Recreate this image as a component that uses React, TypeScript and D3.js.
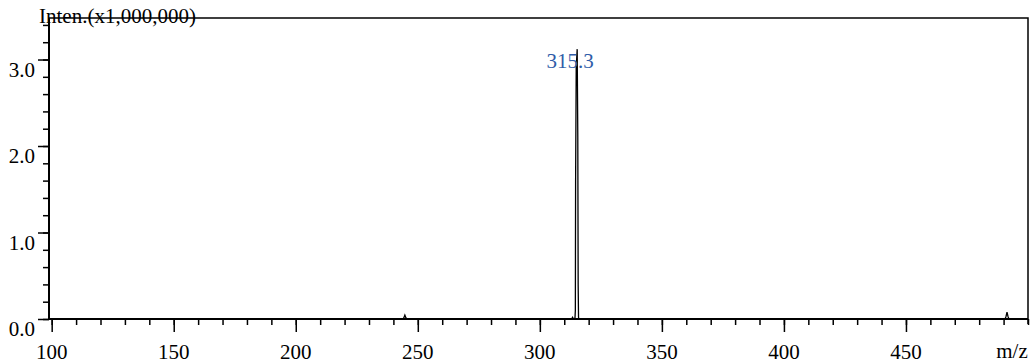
import React, { useRef, useEffect } from "react";
import * as d3 from "d3";

// spectrum profile (m/z, intensity in millions)
const mz = [98.9, 243.9, 244.3, 244.7, 245.1, 245.5, 313.0, 313.4, 313.8, 314.4, 314.55, 314.65, 314.9, 315.3, 315.55, 315.7, 315.85, 316.0, 490.6, 491.0, 491.4, 491.8, 492.2, 500];
const intensity = [0, 0, 0.015, 0.045, 0.015, 0, 0, 0.02, 0, 0.01, 0.1, 1.6, 2.9, 3.12, 2.1, 0.4, 0.02, 0, 0, 0.03, 0.08, 0.03, 0, 0];

const peakLabels = [{ mz: 315.3, value: 3.12, text: "315.3" }];

const xMajor = [100, 150, 200, 250, 300, 350, 400, 450];
const xMinor = d3.range(100, 501, 10);
const yMajor = [0, 1, 2, 3];
const yMinor = d3.range(0, 3.41, 0.2);
const yTickLabels = ["0.0", "1.0", "2.0", "3.0"];

const font = "'Liberation Serif', 'Times New Roman', serif";

function App() {
  const svgRef = useRef<SVGSVGElement>(null);

  useEffect(() => {
    document.body.style.margin = "0";
    const width = 1033,
      height = 363;
    const left = 49,
      right = 1028,
      top = 18,
      bottom = 319;

    const x = d3.scaleLinear().domain([98.9, 500]).range([left, right]);
    const y = d3.scaleLinear().domain([0, 3.48]).range([bottom, top]);

    const svg = d3.select(svgRef.current).attr("width", width).attr("height", height);
    svg.selectAll("*").remove();

    // frame top/right
    svg
      .append("path")
      .attr("d", `M${left},${top}H${right}V${bottom + 5}`)
      .attr("fill", "none")
      .attr("stroke", "#000")
      .attr("stroke-width", 1.5);

    // x minor / major ticks
    const xMinorAxis = d3.axisBottom(x).tickValues(xMinor).tickSize(6).tickFormat(() => "");
    const xMajorAxis = d3.axisBottom(x).tickValues(xMajor).tickSize(13).tickFormat(() => "");
    [xMinorAxis, xMajorAxis].forEach((ax) => {
      const g = svg.append("g").attr("transform", `translate(0,${bottom})`).call(ax);
      g.select(".domain").remove();
      g.selectAll("line").attr("stroke", "#000").attr("stroke-width", 1.5);
    });

    // y minor / major ticks
    const yMinorAxis = d3.axisLeft(y).tickValues(yMinor).tickSize(6).tickFormat(() => "");
    const yMajorAxis = d3.axisLeft(y).tickValues(yMajor).tickSize(11).tickFormat(() => "");
    [yMinorAxis, yMajorAxis].forEach((ax) => {
      const g = svg.append("g").attr("transform", `translate(${left},0)`).call(ax);
      g.select(".domain").remove();
      g.selectAll("line").attr("stroke", "#000").attr("stroke-width", 1.5);
    });

    // axis lines
    svg
      .append("path")
      .attr("d", `M${left},${top}V${bottom}H${right}`)
      .attr("fill", "none")
      .attr("stroke", "#000")
      .attr("stroke-width", 2);

    // x labels
    svg
      .selectAll(".xl")
      .data(xMajor)
      .join("text")
      .attr("x", (d) => x(d))
      .attr("y", 359)
      .attr("text-anchor", "middle")
      .attr("font-family", font)
      .attr("font-size", 21)
      .text((d) => String(d));

    svg
      .append("text")
      .attr("x", 1012)
      .attr("y", 358)
      .attr("text-anchor", "middle")
      .attr("font-family", font)
      .attr("font-size", 21)
      .text("m/z");

    // y labels
    svg
      .selectAll(".yl")
      .data(yMajor)
      .join("text")
      .attr("x", 35)
      .attr("y", (d) => y(d) + 17)
      .attr("text-anchor", "end")
      .attr("font-family", font)
      .attr("font-size", 21)
      .text((d, i) => yTickLabels[i]);

    svg
      .append("text")
      .attr("x", 39)
      .attr("y", 23)
      .attr("font-family", font)
      .attr("font-size", 21)
      .text("Inten.(x1,000,000)");

    // spectrum
    const line = d3
      .line<number>()
      .x((d) => x(d))
      .y((d, i) => y(intensity[i]));
    svg
      .append("path")
      .attr("d", line(mz))
      .attr("fill", "none")
      .attr("stroke", "#000")
      .attr("stroke-width", 1.3);

    // peak label
    svg
      .selectAll(".pl")
      .data(peakLabels)
      .join("text")
      .attr("x", (d) => x(d.mz) - 7)
      .attr("y", (d) => y(d.value) + 19)
      .attr("text-anchor", "middle")
      .attr("font-family", font)
      .attr("font-size", 21)
      .attr("fill", "#2f5ca8")
      .text((d) => d.text);
  }, []);

  return (
    <React.Fragment>
      <svg ref={svgRef} style={{ display: "block" }}></svg>
    </React.Fragment>
  );
}

export default App;
